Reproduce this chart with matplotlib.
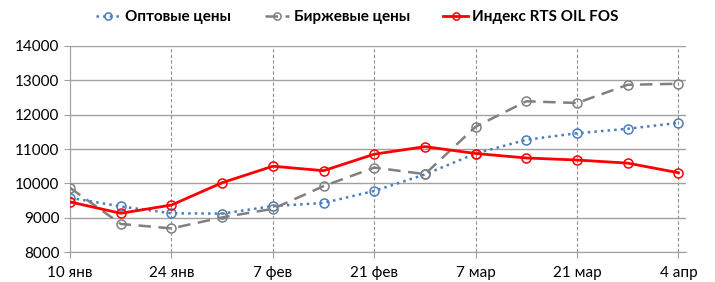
import matplotlib.pyplot as plt
from datetime import datetime

plt.rcParams['font.family'] = ['Lato', 'Open Sans', 'DejaVu Sans']

# weekly observation dates
dates = ['2015-01-10', '2015-01-17', '2015-01-24', '2015-01-31', '2015-02-07',
         '2015-02-14', '2015-02-21', '2015-02-28', '2015-03-07', '2015-03-14',
         '2015-03-21', '2015-03-28', '2015-04-04']
wholesale = [9580, 9330, 9130, 9120, 9340, 9430, 9780, 10260, 10870, 11270, 11460, 11590, 11760]
exchange = [9870, 8820, 8690, 9010, 9260, 9920, 10460, 10270, 11650, 12390, 12340, 12870, 12900]
rts_index = [9460, 9130, 9370, 10020, 10500, 10370, 10850, 11070, 10870, 10740, 10680, 10590, 10310]

tick_dates = ['2015-01-10', '2015-01-24', '2015-02-07', '2015-02-21', '2015-03-07', '2015-03-21', '2015-04-04']
tick_labels = ['10 янв', '24 янв', '7 фев', '21 фев', '7 мар', '21 мар', '4 апр']

x = [datetime.strptime(d, '%Y-%m-%d') for d in dates]
xt = [datetime.strptime(d, '%Y-%m-%d') for d in tick_dates]

fig = plt.figure(figsize=(7.15, 2.82), dpi=100)
ax = fig.add_axes([0.098, 0.106, 0.861, 0.731])

ax.plot(x, wholesale, ls=':', lw=1.8, color='#4a7ebb', marker='o', ms=6.5,
        mfc='none', mec='#4a7ebb', mew=1.1, label='Оптовые цены', zorder=3)
ax.plot(x, exchange, ls=(0, (5, 3)), lw=1.8, color='#808080', marker='o', ms=6.5,
        mfc='none', mec='#808080', mew=1.1, label='Биржевые цены', zorder=3)
ax.plot(x, rts_index, ls='-', lw=2, color='#ff0000', marker='o', ms=6.5,
        mfc='none', mec='#ff0000', mew=1.1, label='Индекс RTS OIL FOS', zorder=4)

ax.set_ylim(8000, 14000)
ax.set_yticks(range(8000, 14001, 1000))
ax.set_xlim(xt[0], datetime(2015, 4, 5))
ax.set_xticks(xt)
ax.set_xticklabels(tick_labels)

ax.grid(axis='y', color='#a0a0a0', lw=1, ls='-')
ax.grid(axis='x', color='#909090', lw=0.8, ls=(0, (3, 2)))
ax.set_axisbelow(True)

for s in ['top', 'right']:
    ax.spines[s].set_visible(False)
for s in ['left', 'bottom']:
    ax.spines[s].set_color('#a0a0a0')
ax.tick_params(axis='both', colors='#a0a0a0', labelcolor='black', labelsize=11, length=4)
ax.tick_params(axis='x', pad=6)

fig.legend(loc='center', bbox_to_anchor=(0.5, 0.94), ncol=3, frameon=False,
           prop={'weight': 'bold', 'size': 11}, handlelength=1.6, columnspacing=2.2,
           handletextpad=0.3, markerscale=0.8)

fig.savefig('out.png', dpi=100)
